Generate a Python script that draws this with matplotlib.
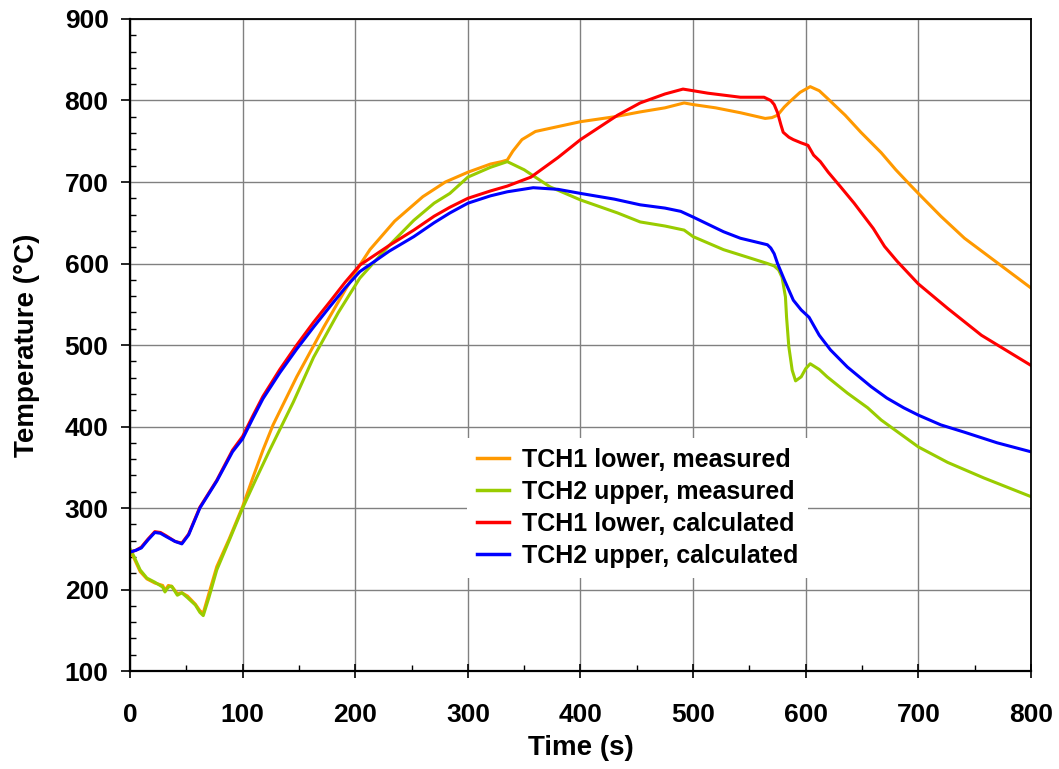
import matplotlib
matplotlib.use("Agg")
import matplotlib.pyplot as plt
from matplotlib.ticker import MultipleLocator

plt.rcParams['font.family'] = ['Liberation Sans', 'DejaVu Sans']
plt.rcParams['font.weight'] = 'bold'

# TCH1 lower, measured
t_tch1_meas = [0, 3, 9, 15, 22, 29, 31, 34, 37, 42, 46, 51, 58, 62, 65, 70, 77, 88, 100,
               109, 118, 127, 148, 172, 190, 204, 213, 235, 260, 280, 300, 320, 330, 335, 340,
               348, 360, 380, 400, 430, 453, 475, 492, 500, 520, 542, 564, 570, 575, 581,
               587, 595, 604, 612, 619, 635, 649, 667, 680, 693, 700, 720, 741, 771, 800]
T_tch1_meas = [247, 240, 222, 213, 208, 205, 199, 205, 204, 195, 196, 192, 182, 174, 171, 195,
               228, 262, 302, 337, 371, 402, 461, 522, 565, 598, 617, 652, 682, 700, 712, 722,
               725, 727, 738, 752, 762, 768, 774, 780, 786, 791, 797, 795, 791, 785, 778, 779,
               782, 792, 800, 810, 817, 812, 803, 782, 761, 736, 715, 696, 686, 658, 631, 600,
               570]

# TCH2 upper, measured
t_tch2_meas = [0, 3, 9, 15, 22, 29, 31, 34, 37, 42, 46, 51, 58, 62, 65, 70, 77, 88, 100,
               112, 124, 145, 163, 185, 204, 230, 252, 270, 284, 300, 320, 335, 350, 373, 400,
               433, 453, 475, 492, 500, 527, 550, 566, 572, 576, 579, 582, 583, 585, 588,
               591, 596, 600, 604, 612, 619, 637, 655, 667, 700, 726, 758, 800]
T_tch2_meas = [250, 242, 224, 214, 209, 203, 197, 203, 204, 193, 196, 190, 181, 172, 168, 190,
               224, 260, 300, 336, 371, 430, 485, 540, 582, 622, 653, 674, 686, 706, 718, 725,
               715, 694, 678, 662, 651, 646, 641, 633, 617, 607, 600, 597, 592, 583, 559, 534,
               498, 469, 456, 461, 471, 477, 470, 461, 441, 423, 408, 375, 356, 337, 314]

# TCH1 lower, calculated
t_tch1_calc = [0, 5, 10, 16, 22, 27, 32, 40, 46, 52, 62, 77, 91, 100, 109, 118, 133, 148, 163,
               178, 191, 204, 230, 252, 270, 284, 300, 320, 335, 356, 380, 400, 433, 453, 475,
               491, 500, 513, 542, 563, 569, 572, 575, 578, 580, 585, 589, 596, 602, 607, 613,
               620, 631, 643, 660, 670, 681, 700, 726, 756, 800]
T_tch1_calc = [246, 248, 252, 262, 271, 270, 266, 259, 257, 268, 301, 334, 371, 388, 413, 437,
               470, 500, 528, 554, 577, 598, 622, 641, 658, 669, 680, 689, 695, 706, 730, 752,
               782, 797, 808, 814, 812, 809, 804, 804, 800, 795, 785, 770, 761, 755, 752, 748,
               745, 733, 725, 712, 694, 674, 643, 621, 603, 575, 545, 512, 475]

# TCH2 upper, calculated
t_tch2_calc = [0, 5, 10, 16, 22, 27, 32, 40, 46, 52, 62, 77, 91, 100, 109, 118, 133, 148, 163,
               178, 191, 204, 230, 252, 270, 284, 300, 320, 335, 358, 380, 400, 430, 453, 475,
               489, 500, 527, 542, 566, 569, 572, 575, 581, 589, 596, 603, 612, 622, 637, 658,
               672, 687, 700, 720, 741, 770, 800]
T_tch2_calc = [246, 248, 251, 261, 270, 269, 265, 259, 256, 267, 300, 333, 369, 385, 410, 434,
               466, 495, 522, 548, 570, 590, 615, 633, 650, 662, 674, 683, 688, 693, 691, 686,
               679, 672, 668, 664, 657, 639, 631, 623, 619, 612, 600, 580, 555, 543, 534, 512,
               494, 473, 449, 435, 423, 414, 402, 393, 380, 369]

series = [
    (t_tch1_meas, T_tch1_meas, "TCH1 lower, measured", "#FF9900"),
    (t_tch2_meas, T_tch2_meas, "TCH2 upper, measured", "#99CC00"),
    (t_tch1_calc, T_tch1_calc, "TCH1 lower, calculated", "#FF0000"),
    (t_tch2_calc, T_tch2_calc, "TCH2 upper, calculated", "#0000FF"),
]

fig = plt.figure(figsize=(10.59, 7.69), dpi=100)
ax = fig.add_axes([0.1228, 0.1274, 0.8507, 0.8479])

for t, T, label, color in series:
    ax.plot(t, T, color=color, lw=2.2, label=label, solid_joinstyle='round')

ax.set_xlim(0, 800)
ax.set_ylim(100, 900)
ax.xaxis.set_major_locator(MultipleLocator(100))
ax.xaxis.set_minor_locator(MultipleLocator(50))
ax.yaxis.set_major_locator(MultipleLocator(100))
ax.yaxis.set_minor_locator(MultipleLocator(20))

ax.grid(True, which='major', color='#808080', lw=1.0)
ax.set_axisbelow(True)

ax.tick_params(axis='x', which='major', direction='inout', length=9.5, width=1.2,
               labelsize=19, pad=18)
ax.tick_params(axis='x', which='minor', direction='in', length=4.5, width=1.0)
ax.tick_params(axis='y', which='major', direction='out', length=6.5, width=1.2,
               labelsize=19, pad=9)
ax.tick_params(axis='y', which='minor', direction='in', length=4.0, width=1.0)

for lbl in ax.get_xticklabels() + ax.get_yticklabels():
    lbl.set_fontweight('bold')

for side in ['left', 'bottom']:
    ax.spines[side].set_linewidth(1.6)
    ax.spines[side].set_color('black')
for side in ['top', 'right']:
    ax.spines[side].set_linewidth(1.3)
    ax.spines[side].set_color('black')

ax.set_xlabel("Time (s)", fontsize=20, fontweight='bold', labelpad=6)
ax.set_ylabel("Temperature (°C)", fontsize=20, fontweight='bold', labelpad=18)

leg = ax.legend(loc='upper left', bbox_to_anchor=(0.374, 0.358), borderaxespad=0,
                fontsize=18, frameon=True, fancybox=False, framealpha=1,
                edgecolor='none', facecolor='white', handlelength=1.3,
                handletextpad=0.5, labelspacing=0.32, borderpad=0.4)
for txt in leg.get_texts():
    txt.set_fontweight('bold')
for h in leg.get_lines():
    h.set_linewidth(2.5)

fig.savefig("out.png", dpi=100)
